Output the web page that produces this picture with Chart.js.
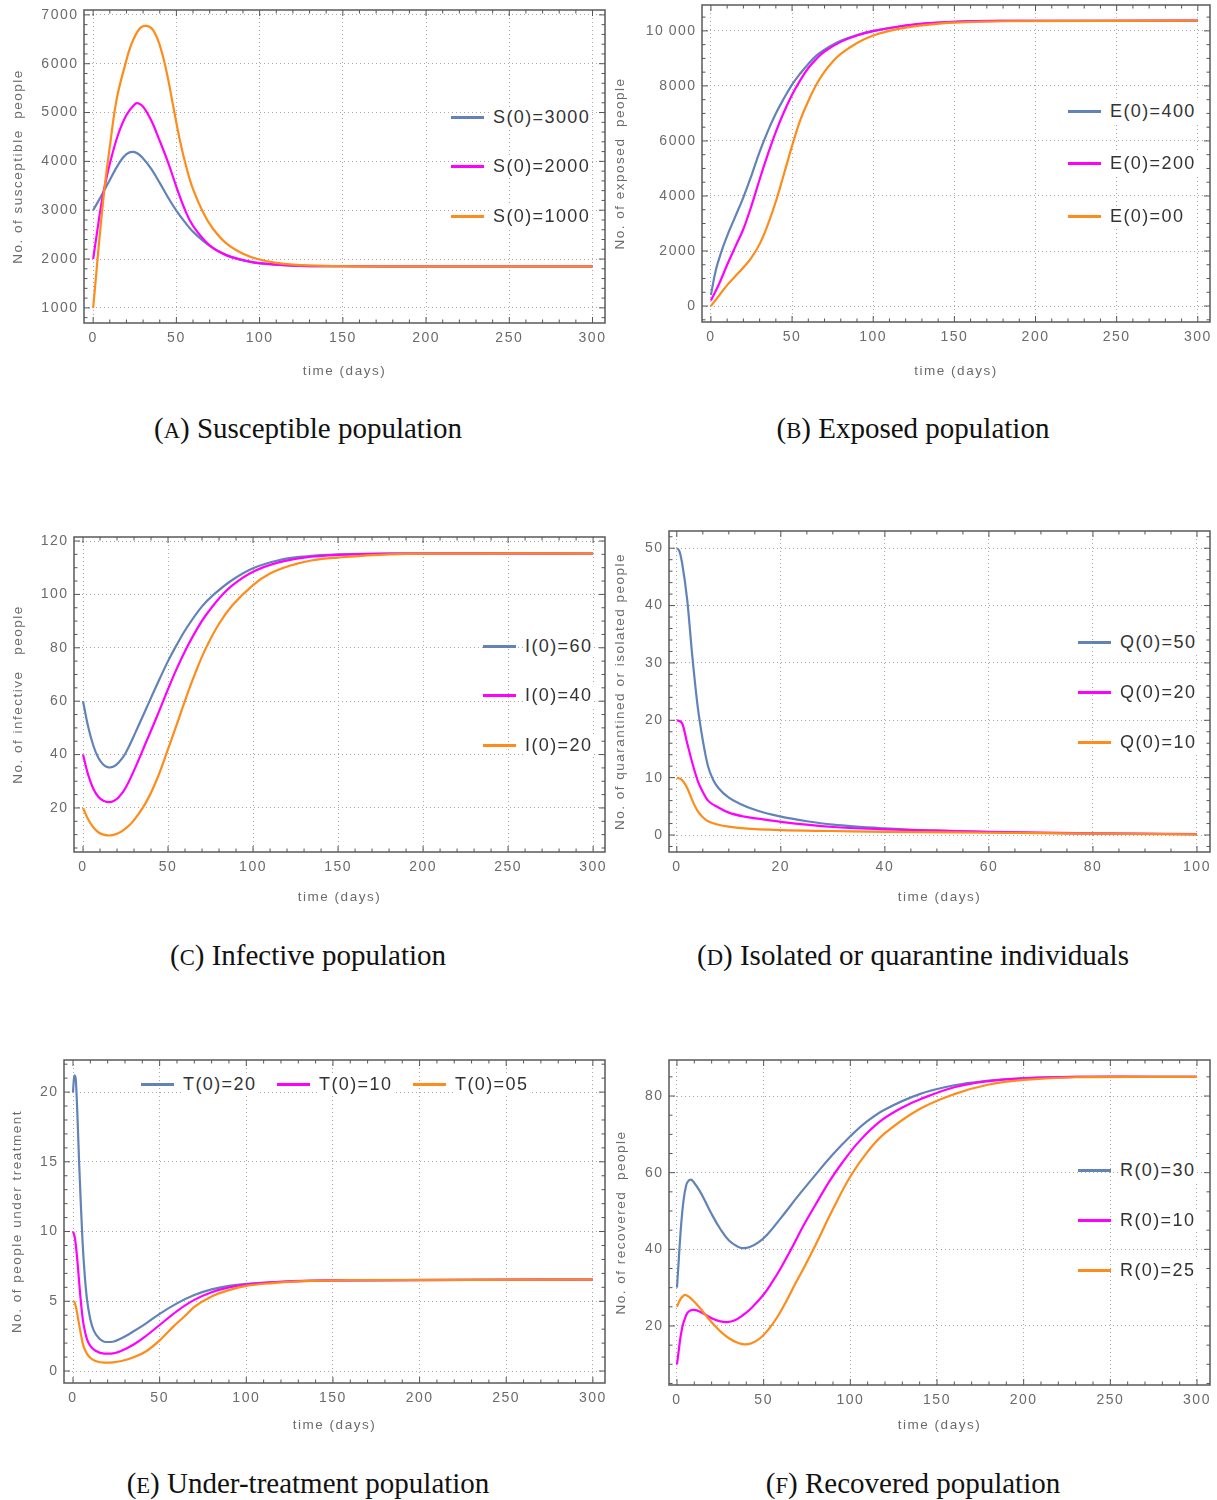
<!DOCTYPE html>
<html><head><meta charset="utf-8">
<script src="https://cdn.jsdelivr.net/npm/chart.js@4.4.0/dist/chart.umd.min.js"></script>
<style>
body{margin:0;background:#fff;width:1217px;height:1500px;position:relative;overflow:hidden}
.panel{position:absolute}
.panel canvas{display:block}
.cap{position:absolute;font-family:"Liberation Serif","Times New Roman",serif;font-size:29px;color:#111;transform:translate(-50%,-50%);white-space:nowrap}
.cap .sc{font-size:0.78em}
.leg{position:absolute;height:24px;font-family:"Liberation Sans",Arial,sans-serif;font-size:18px;letter-spacing:1.4px;color:#333;display:flex;align-items:center;white-space:nowrap}
.leg i{display:inline-block;width:33px;height:3px;margin-right:7px}
.leg span{background:#fff;padding:0 2px}
</style></head><body>
<script>
// ---------- tick values / labels ----------
const xTicks300 = [0,50,100,150,200,250,300];
const xLabels300 = ['0','50','100','150','200','250','300'];
const xTicks100 = [0,20,40,60,80,100];
const xLabels100 = ['0','20','40','60','80','100'];
const S_yTicks = [1000,2000,3000,4000,5000,6000,7000];
const S_yLabels = ['1000','2000','3000','4000','5000','6000','7000'];
const E_yTicks = [0,2000,4000,6000,8000,10000];
const E_yLabels = ['0','2000','4000','6000','8000','10\u2009000'];
const I_yTicks = [20,40,60,80,100,120];
const I_yLabels = ['20','40','60','80','100','120'];
const Q_yTicks = [0,10,20,30,40,50];
const Q_yLabels = ['0','10','20','30','40','50'];
const T_yTicks = [0,5,10,15,20];
const T_yLabels = ['0','5','10','15','20'];
const R_yTicks = [20,40,60,80];
const R_yLabels = ['20','40','60','80'];

// ---------- legend labels ----------
const S_labels = ['S(0)=3000','S(0)=2000','S(0)=1000'];
const E_labels = ['E(0)=400','E(0)=200','E(0)=00'];
const I_labels = ['I(0)=60','I(0)=40','I(0)=20'];
const Q_labels = ['Q(0)=50','Q(0)=20','Q(0)=10'];
const T_labels = ['T(0)=20','T(0)=10','T(0)=05'];
const R_labels = ['R(0)=30','R(0)=10','R(0)=25'];

// ---------- (A) susceptible ----------
const S1_t = [0,5,10,15,20,25,30,35,40,45,50,55,60,70,80,90,100,120,150,200,300];
const S1_v = [3000,3300,3620,3930,4150,4190,4060,3840,3560,3260,2990,2760,2560,2270,2080,1970,1910,1865,1852,1849,1849];
const S2_t = [0,3,5,7,10,15,20,25,27,30,35,40,45,50,55,60,70,80,90,100,120,150,200,300];
const S2_v = [2000,2700,3150,3500,3950,4550,4950,5170,5190,5120,4830,4420,3980,3480,3020,2680,2280,2080,1980,1915,1865,1852,1849,1849];
const S3_t = [0,2,4,7,10,14,19,23,28,32,36,40,44,48,52,56,60,66,72,80,90,100,110,120,140,160,200,300];
const S3_v = [1000,1750,2500,3500,4300,5250,5950,6400,6720,6775,6690,6380,5850,5150,4450,3880,3430,2960,2620,2320,2110,1990,1920,1885,1858,1850,1849,1849];

// ---------- (B) exposed ----------
const E1_t = [0,3,6,10,15,20,25,30,35,40,45,50,55,60,65,70,80,90,100,115,130,150,180,300];
const E1_v = [400,1300,1900,2550,3250,3950,4750,5600,6350,7000,7550,8050,8450,8800,9100,9320,9640,9850,10000,10150,10250,10330,10360,10370];
const E2_t = [0,5,10,15,20,25,30,35,40,45,50,55,60,65,70,80,90,100,115,130,150,180,300];
const E2_v = [200,800,1500,2150,2800,3650,4600,5500,6330,7050,7680,8200,8650,8980,9250,9600,9830,9990,10150,10260,10330,10360,10370];
const E3_t = [0,5,10,15,20,25,30,35,40,45,50,55,60,65,70,75,80,90,100,110,120,130,150,180,300];
const E3_v = [0,380,760,1080,1400,1760,2250,2950,3800,4800,5820,6750,7450,8050,8520,8880,9160,9560,9830,10000,10120,10200,10300,10350,10370];

// ---------- (C) infective ----------
const I1_t = [0,3,6,9,12,15,18,21,25,31,37,43,50,55,61,70,77,88,100,115,130,150,180,300];
const I1_v = [60,50.5,43.5,38.8,36.2,35.2,35.5,37,40.5,48.5,57,65.5,75,81,87.5,95.5,100,105.5,109.8,112.8,114.2,115,115.3,115.3];
const I2_t = [0,3,6,9,12,15,18,21,25,31,37,43,50,55,61,67,72,80,88,100,115,130,150,180,300];
const I2_v = [40,32.5,27.3,24.2,22.7,22.2,22.6,24,27.5,35.5,44.5,53.5,64.5,72,80,87,92,98.5,103.5,108.5,112,113.8,114.8,115.3,115.3];
const I3_t = [0,3,6,9,12,16,20,24,28,31,37,43,50,55,61,66,72,80,88,100,110,122,135,150,180,210,300];
const I3_v = [20,15.8,12.8,10.9,10,9.7,10.3,11.8,14,16.3,22,30,42,51,62,70.5,79.5,89,96,103.5,107.8,110.8,112.8,113.8,115,115.3,115.3];

// ---------- (D) quarantined ----------
const Q1_t = [0,0.5,1,2,3,4,5,6,7,8,10,12,15,20,25,30,40,50,60,70,80,100];
const Q1_v = [50,49.5,47.5,41,31,22.5,16.5,12,9.6,8.2,6.5,5.5,4.4,3.2,2.4,1.8,1.15,0.75,0.5,0.35,0.25,0.15];
const Q2_t = [0,1,2,3,4,5,6,8,10,13,16,20,30,40,50,60,80,100];
const Q2_v = [20,19.5,16,12.5,9.5,7.5,6,4.8,3.9,3.2,2.8,2.3,1.4,1,0.75,0.55,0.3,0.15];
const Q3_t = [0,1,2,3,4,5,6,8,10,13,20,30,40,60,80,100];
const Q3_v = [10,9.6,8.2,6,4.2,3.1,2.4,1.8,1.45,1.15,0.85,0.7,0.55,0.4,0.25,0.1];

// ---------- (E) under treatment ----------
const T1_t = [0,0.7,1.5,2.5,3.5,4.5,5.5,6.5,8,10,12,15,19,23,28,35,42,50,60,70,80,90,100,120,150,300];
const T1_v = [20,21.2,21,18.5,15,12,9.3,7.3,5.2,3.7,2.9,2.35,2.08,2.1,2.35,2.85,3.4,4.1,4.85,5.45,5.85,6.1,6.25,6.4,6.5,6.55];
const T2_t = [0,1,2,3,4,5,6,8,10,13,18,22,28,35,42,50,60,70,80,90,100,120,150,300];
const T2_v = [10,9.6,8.6,7.2,5.7,4.4,3.4,2.3,1.8,1.45,1.25,1.25,1.45,1.9,2.5,3.3,4.3,5.1,5.65,6.0,6.2,6.4,6.5,6.55];
const T3_t = [0,1,2,3,4,5,6,8,10,13,18,23,28,35,42,50,58,65,70,80,90,100,115,130,160,300];
const T3_v = [5,4.9,4.4,3.7,3.0,2.35,1.8,1.25,0.95,0.72,0.6,0.62,0.72,0.98,1.4,2.2,3.2,4.0,4.6,5.35,5.8,6.1,6.3,6.42,6.52,6.55];

// ---------- (F) recovered ----------
const R1_t = [0,1,2,3,4,5,6,8,10,13,16,20,25,30,35,38,42,47,52,60,70,80,90,100,110,120,140,160,180,200,230,300];
const R1_v = [30,37,44,49.5,53.5,56,57.5,58.2,57.3,55.3,52.8,49.2,45.3,42.3,40.7,40.3,40.6,41.8,43.8,48.2,54,59.5,64.8,69.5,73.5,76.5,80.5,82.8,84,84.7,85,85];
const R2_t = [0,1,2,3,4,6,8,10,13,17,21,25,29,33,38,43,50,55,60,67,73,80,88,95,105,117,130,140,160,180,200,230,300];
const R2_v = [10,13.5,17,19.5,21.2,23.4,24.1,24.2,23.8,22.8,21.8,21.2,21,21.4,22.8,24.7,28.2,31.5,35.2,41,46.2,51.7,57.8,62.4,68.1,73.3,77,79.1,82.3,83.9,84.6,85,85];
const R3_t = [0,2,4,5,7,10,14,18,22,26,30,35,39,43,48,53,58,63,68,73,80,90,100,110,120,140,160,180,200,230,300];
const R3_v = [25,27,28,28.1,27.6,26.3,24.3,22,20,18.2,16.8,15.6,15.2,15.5,16.8,19.2,22.4,26.4,30.8,35,41.2,50.5,59,65.5,70.3,76.6,80.5,83,84.2,84.9,85];

// ---------- styles ----------
const seriesColors = ['#6283B8','#FF00FF','#FF8C1A'];
Chart.defaults.font.family = "'Liberation Sans', Arial, sans-serif";

const panels = [
 {box:[0,0,610,390], area:[84,10,605,323], xr:[-5.5,307.5], yr:[690,7100], mono:false,
  xt:xTicks300, xl:xLabels300, xm:10, yt:S_yTicks, yl:S_yLabels, ym:200,
  ytitle:'No. of susceptible  people', ytp:10, xtp:11,
  ser:[[S1_t,S1_v],[S2_t,S2_v],[S3_t,S3_v]], labels:S_labels,
  leg:[[451,117],[451,166],[451,216]], cap:['A','Susceptible population',308,428]},
 {box:[610,0,607,390], area:[92,5,600,322], xr:[-5.5,307.5], yr:[-580,10940], mono:false,
  xt:xTicks300, xl:xLabels300, xm:10, yt:E_yTicks, yl:E_yLabels, ym:500,
  ytitle:'No. of exposed  people', ytp:2.5, xtp:11,
  ser:[[E1_t,E1_v],[E2_t,E2_v],[E3_t,E3_v]], labels:E_labels,
  leg:[[1068,111],[1068,163],[1068,216]], cap:['B','Exposed population',913,428]},
 {box:[0,525,610,390], area:[74,12,605,327], xr:[-5.3,307], yr:[3.5,121.5], mono:false,
  xt:xTicks300, xl:xLabels300, xm:10, yt:I_yTicks, yl:I_yLabels, ym:5,
  ytitle:'No. of infective   people', ytp:10, xtp:10,
  ser:[[I1_t,I1_v],[I2_t,I2_v],[I3_t,I3_v]], labels:I_labels,
  leg:[[483,646],[483,695],[483,745]], cap:['C','Infective population',308,955]},
 {box:[610,525,607,390], area:[59,6,600,327], xr:[-1.5,102.5], yr:[-2.96,53], mono:true,
  xt:xTicks100, xl:xLabels100, xm:5, yt:Q_yTicks, yl:Q_yLabels, ym:2,
  ytitle:'No. of quarantined or isolated people', ytp:2, xtp:10,
  ser:[[Q1_t,Q1_v],[Q2_t,Q2_v],[Q3_t,Q3_v]], labels:Q_labels,
  leg:[[1078,642],[1078,692],[1078,742]], cap:['D','Isolated or quarantine individuals',913,955]},
 {box:[0,1050,610,390], area:[64,10,605,333], xr:[-5.2,307], yr:[-0.86,22.3], mono:true,
  xt:xTicks300, xl:xLabels300, xm:10, yt:T_yTicks, yl:T_yLabels, ym:1,
  ytitle:'No. of people under treatment', ytp:9, xtp:7,
  ser:[[T1_t,T1_v],[T2_t,T2_v],[T3_t,T3_v]], labels:T_labels,
  leg:[[141,1084],[277,1084],[413,1084]], cap:['E','Under-treatment population',308,1483]},
 {box:[610,1050,607,390], area:[59,10,600,335], xr:[-4.6,307.5], yr:[4.6,89.4], mono:false,
  xt:xTicks300, xl:xLabels300, xm:10, yt:R_yTicks, yl:R_yLabels, ym:5,
  ytitle:'No. of recovered  people', ytp:3, xtp:7,
  ser:[[R1_t,R1_v],[R2_t,R2_v],[R3_t,R3_v]], labels:R_labels,
  leg:[[1078,1170],[1078,1220],[1078,1270]], cap:['F','Recovered population',913,1483]}
];

const framePlugin = {
  id:'frame',
  beforeDraw(chart){ chart.ctx.letterSpacing = '1.5px'; },
  afterDatasetsDraw(chart, args, opts){
    const {ctx, chartArea:a, scales:{x,y}} = chart;
    ctx.save();
    ctx.strokeStyle = '#555'; ctx.lineWidth = 1;
    ctx.beginPath();
    const tx = (v,len)=>{const p=x.getPixelForValue(v); if(p<a.left+1||p>a.right-1) return;
      ctx.moveTo(p,a.bottom); ctx.lineTo(p,a.bottom-len); ctx.moveTo(p,a.top); ctx.lineTo(p,a.top+len);};
    const ty = (v,len)=>{const p=y.getPixelForValue(v); if(p<a.top+1||p>a.bottom-1) return;
      ctx.moveTo(a.left,p); ctx.lineTo(a.left+len,p); ctx.moveTo(a.right,p); ctx.lineTo(a.right-len,p);};
    for(let v=Math.ceil(x.min/opts.xm)*opts.xm; v<=x.max; v+=opts.xm){ tx(v, opts.xt.includes(v)?6:3.5); }
    for(let v=Math.ceil(y.min/opts.ym)*opts.ym; v<=y.max; v+=opts.ym){ ty(v, opts.yt.includes(v)?6:3.5); }
    ctx.stroke();
    ctx.lineWidth = 1.5; ctx.strokeStyle = '#5a5a5a';
    ctx.strokeRect(a.left, a.top, a.right-a.left, a.bottom-a.top);
    ctx.restore();
  }
};

panels.forEach(p=>{
  const [L,T,W,H] = p.box;
  const [al,at,ar,ab] = p.area;
  const div = document.createElement('div');
  div.className='panel';
  div.style.cssText = `left:${L}px;top:${T}px;width:${W}px;height:${H}px`;
  const cv = document.createElement('canvas');
  cv.width = W; cv.height = H;
  div.appendChild(cv);
  document.body.appendChild(div);
  const tickFont = {size:14};
  const tickColor = '#6b6b6b';
  new Chart(cv, {
    type:'line',
    data:{datasets: p.ser.map((s,i)=>({
      label:p.labels[i],
      data:s[0].map((t,j)=>({x:t,y:s[1][j]})),
      borderColor:seriesColors[i], backgroundColor:seriesColors[i],
      borderWidth:2.2, pointRadius:0, fill:false,
      cubicInterpolationMode: p.mono ? 'monotone' : 'default',
      tension: p.mono ? 0 : 0.4,
      order:3-i
    }))},
    options:{
      responsive:false, animation:false, events:[],
      layout:{padding:{top:at,right:W-ar,left:0,bottom:0}},
      plugins:{legend:{display:false}, tooltip:{enabled:false},
        frame:{xm:p.xm, ym:p.ym, xt:p.xt, yt:p.yt}},
      scales:{
        x:{type:'linear', min:p.xr[0], max:p.xr[1],
          afterFit(s){ s.height = H-ab; s.paddingLeft = 0; s.paddingRight = 0; },
          afterBuildTicks(s){ s.ticks = p.xt.map(v=>({value:v})); },
          ticks:{autoSkip:false, maxRotation:0, padding:7, color:tickColor, font:tickFont,
            callback:(v,i)=>p.xl[i]},
          grid:{color:'#a8a8a8', lineWidth:1, drawTicks:false},
          border:{display:false, dash:[1,3]},
          title:{display:true, text:'time (days)', color:tickColor, font:{size:13.5},
            padding:{top:0,bottom:p.xtp}}
        },
        y:{type:'linear', min:p.yr[0], max:p.yr[1],
          afterFit(s){ s.width = al; s.paddingTop = 0; s.paddingBottom = 0; },
          afterBuildTicks(s){ s.ticks = p.yt.map(v=>({value:v})); },
          ticks:{autoSkip:false, padding:5.5, color:tickColor, font:tickFont,
            callback:(v,i)=>p.yl[i]},
          grid:{color:'#a8a8a8', lineWidth:1, drawTicks:false},
          border:{display:false, dash:[1,3]},
          title:{display:true, text:p.ytitle, color:tickColor, font:{size:13.5},
            padding:{top:p.ytp,bottom:0}}
        }
      }
    },
    plugins:[framePlugin]
  });
  // legend (HTML)
  p.leg.forEach((pos,i)=>{
    const e = document.createElement('div');
    e.className='leg';
    e.style.left = pos[0]+'px'; e.style.top = (pos[1]-12)+'px';
    const ln = document.createElement('i'); ln.style.background = seriesColors[i];
    const sp = document.createElement('span'); sp.textContent = p.labels[i];
    e.appendChild(ln); e.appendChild(sp);
    document.body.appendChild(e);
  });
  // caption
  const c = document.createElement('div');
  c.className='cap';
  c.style.left = p.cap[2]+'px'; c.style.top = p.cap[3]+'px';
  c.innerHTML = `(<span class="sc">${p.cap[0]}</span>) ${p.cap[1]}`;
  document.body.appendChild(c);
});
</script>
</body></html>
